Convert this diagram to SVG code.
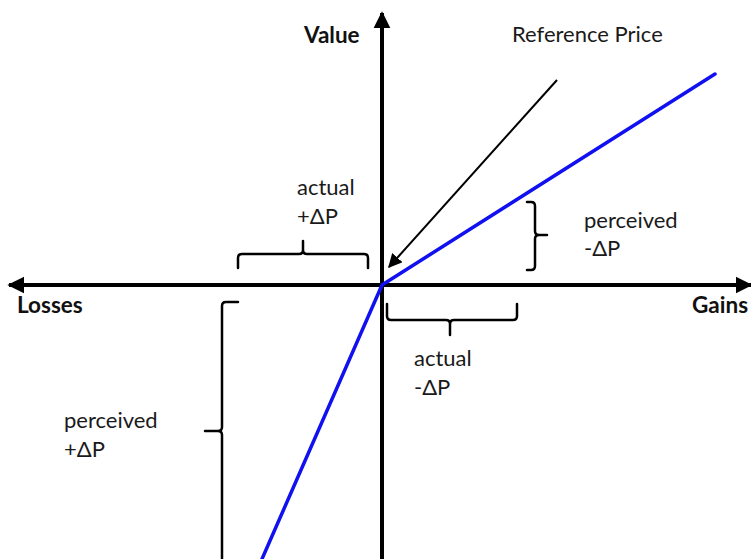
<svg xmlns="http://www.w3.org/2000/svg" width="751" height="559" viewBox="0 0 751 559">
<defs>
<style>
.lbl{font-family:Lato,"Open Sans","Liberation Sans",sans-serif;font-size:22px;fill:#1a1a1a}
.bold{font-weight:bold;fill:#111;font-size:22.5px}
.axis{stroke:#000;stroke-width:4;fill:none}
.brace{stroke:#000;stroke-width:2.5;fill:none;stroke-linecap:round;stroke-linejoin:round}
.curve{stroke:#1010f0;stroke-width:3.5;fill:none;stroke-linecap:round;stroke-linejoin:round}
</style>
<marker id="ah" viewBox="0 0 10 10" refX="9" refY="5" markerWidth="4.2" markerHeight="4.5" orient="auto" markerUnits="strokeWidth">
<path d="M0,0 L10,5 L0,10 z" fill="#000"/>
</marker>
<marker id="ahs" viewBox="0 0 10 10" refX="9" refY="5" markerWidth="7" markerHeight="7" orient="auto" markerUnits="strokeWidth">
<path d="M0,0 L10,5 L0,10 z" fill="#000"/>
</marker>
</defs>
<rect width="751" height="559" fill="#fff"/>
<g id="connectors">
<line class="axis" x1="382" y1="559" x2="382" y2="13" marker-end="url(#ah)"/>
<line class="axis" x1="382" y1="285" x2="9" y2="285" marker-end="url(#ah)"/>
<line class="axis" x1="382" y1="285" x2="751" y2="285" marker-end="url(#ah)"/>
<line x1="557" y1="80" x2="389" y2="267" stroke="#000" stroke-width="2" marker-end="url(#ahs)"/>
<polyline class="curve" points="715,74 382,285 262,559"/>
</g>
<g id="axis-labels">
<text class="lbl bold" x="304" y="43">Value</text>
<text class="lbl bold" x="17" y="313">Losses</text>
<text class="lbl bold" x="692" y="313">Gains</text>
<text class="lbl" x="512" y="42">Reference Price</text>
</g>
<g id="actual-plus">
<path class="brace" d="M238,268 V258 Q238,254 242,254 H299 Q303,254 303,250 V241 M303,250 Q303,254 307,254 H364 Q368,254 368,258 V268"/>
<text class="lbl" x="297" y="195">actual</text>
<text class="lbl" x="297" y="224">+ΔP</text>
</g>
<g id="actual-minus">
<path class="brace" d="M387,304 V316 Q387,320 391,320 H446 Q450,320 450,324 V335 M450,324 Q450,320 454,320 H513 Q517,320 517,316 V304"/>
<text class="lbl" x="414" y="366">actual</text>
<text class="lbl" x="414" y="395">-ΔP</text>
</g>
<g id="perceived-minus">
<path class="brace" d="M527,202 H531 Q535,202 535,206 V231 Q535,235 539,235 H547 M539,235 Q535,235 535,239 V266 Q535,270 531,270 H527"/>
<text class="lbl" x="584" y="228">perceived</text>
<text class="lbl" x="584" y="256">-ΔP</text>
</g>
<g id="perceived-plus">
<path class="brace" d="M238,302 H226 Q222,302 222,306 V427 Q222,431 218,431 H205 M218,431 Q222,431 222,435 V560"/>
<text class="lbl" x="64" y="428">perceived</text>
<text class="lbl" x="64" y="457">+ΔP</text>
</g>
</svg>
